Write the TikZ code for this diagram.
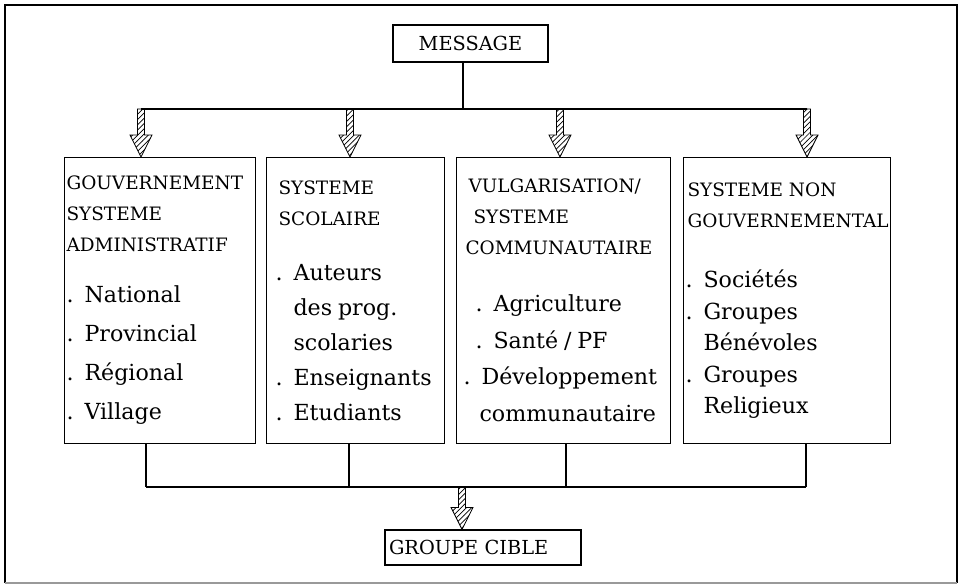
\documentclass[tikz,border=0pt]{standalone}
\usepackage{fontspec}
\setmainfont{DejaVu Serif}
\usetikzlibrary{patterns}
\setlength\parindent{0pt}

\newcommand\boxhead{\fontsize{10.5}{17.6}\selectfont}
\newcommand\boxitems[1]{\fontsize{12.6}{#1}\selectfont}
\newcommand\dotitem{\makebox[3.6mm][l]{.}}
\newcommand\indentitem{\hspace*{3.6mm}}

\tikzset{
  frame/.style={line width=1.3pt},
  wire/.style={line width=0.6pt},
  title/.style={draw, line width=0.6pt, inner sep=0pt, font=\fontsize{11}{13}\selectfont},
  sysbox/.style={draw, line width=0.6pt, anchor=north west, align=left,
    inner xsep=0.4mm, inner ysep=0pt, minimum height=57.2mm},
  pics/hatch arrow/.style={code={
    \draw[line width=0.5pt, pattern=north east lines]
      (0,0) -- (-11,-22) -- (-3.5,-22) -- (-3.5,-#1) -- (3.5,-#1) -- (3.5,-22) -- (11,-22) -- cycle;
  }}
}

\begin{document}
\begin{tikzpicture}[x=0.2mm, y=-0.2mm]
    \useasboundingbox (0,0) rectangle (961,584);

    % outer frame
    \draw[frame] (5,583) -- (5,5) -- (957,5) -- (957,583);
    \draw[black!40, line width=0.8pt] (5,583) -- (957,583);

    \node[title, minimum width=31mm, minimum height=7.4mm] (msg) at (470.5,43.5) {MESSAGE};

    \node[sysbox, text width=37.4mm] (gov) at (64,157) {%
      {\boxhead GOUVERNEMENT\\SYSTEME\\ADMINISTRATIF\par}
      \vspace{2.4mm}
      {\boxitems{22.2pt}\dotitem National\\\dotitem Provincial\\\dotitem Régional\\\dotitem Village\par}};
    \node[sysbox, text width=34.8mm] (school) at (266,157) {%
      {\boxhead\hspace*{2mm}SYSTEME\\\hspace*{2mm}SCOLAIRE\par}
      \vspace{4mm}
      {\boxitems{19.9pt}\hspace*{1.4mm}\dotitem Auteurs\\\hspace*{5mm}des prog.\\\hspace*{5mm}scolaries\\
       \hspace*{1.4mm}\dotitem Enseignants\\\hspace*{1.4mm}\dotitem Etudiants\par}};
    \node[sysbox, text width=42mm] (ext) at (456,157) {%
      {\boxhead\hspace*{2mm}VULGARISATION/\\\hspace*{3mm}SYSTEME\\\hspace*{1.4mm}COMMUNAUTAIRE\par}
      \vspace{4mm}
      {\boxitems{20.9pt}\hspace*{3.4mm}\dotitem Agriculture\\\hspace*{3.4mm}\dotitem Santé / PF\\
       \hspace*{1mm}\dotitem Développement\\\hspace*{4.2mm}communautaire\par}};
    \node[sysbox, text width=40.6mm] (ngo) at (683,157) {%
      {\boxhead\hspace*{0.4mm}SYSTEME NON\\\hspace*{0.4mm}\mbox{GOUVERNEMENTAL}\par}
      \vspace{5.8mm}
      {\boxitems{17.9pt}\dotitem Sociétés\\\dotitem Groupes\\\indentitem Bénévoles\\
       \dotitem Groupes\\\indentitem Religieux\par}};

    \node[title, text width=37.6mm, inner xsep=0.8mm, minimum height=7mm, align=left] (target) at (483,547.5) {GROUPE CIBLE};

    % top distribution
    \coordinate (split) at (463,109);
    \coordinate (a1) at (141,109);
    \coordinate (a2) at (350,109);
    \coordinate (a3) at (560,109);
    \coordinate (a4) at (807,109);
    \draw[wire] (msg.south -| split) -- (split);
    \draw[wire] (a1) -- (a4);
    \foreach \a/\b in {a1/gov, a2/school, a3/ext, a4/ngo}
      \path (\a |- \b.north) pic {hatch arrow=48};

    % collecting lines
    \coordinate (d1) at (146,487);
    \coordinate (d2) at (349,487);
    \coordinate (d3) at (566,487);
    \coordinate (d4) at (806,487);
    \coordinate (join) at (462,487);
    \foreach \d/\b in {d1/gov, d2/school, d3/ext, d4/ngo}
      \draw[wire] (\b.south -| \d) -- (\d);
    \draw[wire] (d1) -- (d4);
    \path (join |- target.north) pic {hatch arrow=43};

\end{tikzpicture}
\end{document}
